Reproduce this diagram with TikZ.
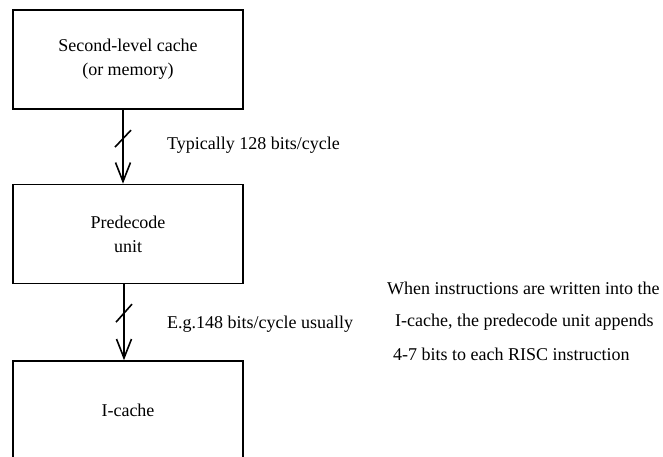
\documentclass[tikz,border=0pt]{standalone}
\usepackage{fontspec}
\setmainfont{Liberation Serif}
\usetikzlibrary{arrows.meta}

\tikzset{
  unitbox/.style={draw, line width=1.6bp, minimum width=230bp, minimum height=99bp,
    inner sep=0pt, align=center, font=\fontsize{18bp}{24bp}\selectfont},
  flow/.style={line width=1.6bp, -{Straight Barb[length=19bp,width=15bp,line width=1.6bp]}},
  busmark/.style={line width=1.6bp},
  note/.style={inner sep=0pt, font=\fontsize{18bp}{24bp}\selectfont},
}

\begin{document}
\begin{tikzpicture}[x=1bp, y=-1bp]
  \useasboundingbox (0,0) rectangle (663,457);
  \begin{scope}
    \clip (0,0) rectangle (663,457);

    % the three stages of the fetch path
    \node[unitbox] (l2)  at (128,59.5)  {Second-level cache\\(or memory)};
    \node[unitbox] (pre) at (128,234)   {Predecode\\unit};
    \node[unitbox] (ic)  at (128,410.5) {I-cache};

    % bus from the second-level cache to the predecode unit
    \draw[flow] ([xshift=-5bp]l2.south) -- ([xshift=-5bp]pre.north)
      coordinate[pos=0.39] (b1);
    \draw[busmark] ([shift={(-8bp,-8.5bp)}]b1) -- ([shift={(8bp,8.5bp)}]b1);

    % bus from the predecode unit into the I-cache
    \draw[flow] ([xshift=-4bp]pre.south) -- ([xshift=-4bp]ic.north)
      coordinate[pos=0.38] (b2);
    \draw[busmark] ([shift={(-8bp,-9bp)}]b2) -- ([shift={(8bp,9bp)}]b2);
  \end{scope}

  % bus widths
  \node[note, anchor=base west] (w1) at (167,150) {Typically 128 bits/cycle};
  \node[note, anchor=base west] (w2) at (167,329) {E.g.148 bits/cycle usually};

  % explanation of the predecode step
  \node[note, anchor=base west] (n1) at (387,295) {When instructions are written into the};
  \node[note, anchor=base west] (n2) at (395,327) {I-cache, the predecode unit appends};
  \node[note, anchor=base west] (n3) at (393,360) {4-7 bits to each RISC instruction};
\end{tikzpicture}
\end{document}
